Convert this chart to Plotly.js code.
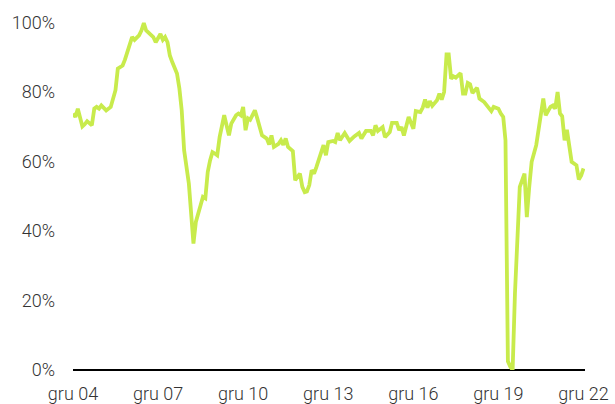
<!DOCTYPE html>
<html>
<head>
<meta charset="utf-8">
<script src="https://cdn.plot.ly/plotly-3.0.1.min.js"></script>
<style>html,body{margin:0;padding:0;background:#fff;}#chart{width:615px;height:404px;}</style>
</head>
<body>
<div id="chart"></div>
<script>
const dates = [
"2004-12","2005-01","2005-02","2005-04","2005-05","2005-06","2005-08","2005-09","2005-10","2005-11","2005-12",
"2006-02","2006-04","2006-06","2006-07","2006-09","2006-10","2007-01","2007-02","2007-04","2007-05","2007-06","2007-07",
"2007-09","2007-10","2007-11","2008-01","2008-02","2008-03","2008-04","2008-05","2008-06","2008-08","2008-09","2008-10","2008-11",
"2009-01","2009-03","2009-04","2009-06","2009-07","2009-08","2009-09","2009-10","2009-11","2009-12",
"2010-01","2010-02","2010-04","2010-06","2010-07","2010-09","2010-10","2010-11","2010-12",
"2011-01","2011-02","2011-03","2011-05","2011-06","2011-07","2011-08","2011-10","2011-11","2011-12",
"2012-01","2012-03","2012-04","2012-05","2012-06","2012-07","2012-09","2012-10","2012-12",
"2013-01","2013-02","2013-03","2013-04","2013-05","2013-06","2013-07","2013-09","2013-10","2013-11","2013-12",
"2014-02","2014-03","2014-04","2014-05","2014-07","2014-09","2014-11",
"2015-01","2015-02","2015-04","2015-06","2015-07","2015-08","2015-09","2015-11","2015-12",
"2016-02","2016-03","2016-05","2016-06","2016-07","2016-08","2016-10","2016-12",
"2017-01","2017-03","2017-04","2017-05","2017-06","2017-07","2017-08","2017-10","2017-11","2017-12",
"2018-01","2018-02","2018-03","2018-04","2018-05","2018-06","2018-08","2018-09","2018-10","2018-11","2018-12",
"2019-01","2019-03","2019-04","2019-06","2019-08","2019-09","2019-10","2019-12",
"2020-01","2020-02","2020-03","2020-04","2020-05","2020-06","2020-07","2020-08","2020-09","2020-11","2020-12",
"2021-01","2021-02","2021-04","2021-07","2021-08","2021-10","2021-11","2021-12",
"2022-01","2022-02","2022-03","2022-04","2022-05","2022-07","2022-09","2022-10","2022-11","2022-12"
];
const values = [
73.8,72.8,75.2,70.1,70.7,71.6,70.4,75.2,75.7,75.2,76.1,
74.7,75.7,80.5,86.7,87.6,89.3,95.8,95.0,96.3,97.7,99.8,97.7,
96.5,95.8,94.3,96.7,95.0,95.8,94.3,90.5,88.6,85.3,81.0,74.7,63.2,
53.6,36.4,42.6,47.4,49.8,49.4,57.0,60.3,62.7,62.3,
61.8,67.0,73.3,67.5,70.9,73.3,73.8,73.3,75.7,
69.0,72.4,72.0,74.7,72.4,70.4,67.5,66.6,64.9,67.5,
64.2,65.1,66.1,64.8,66.6,64.2,63.0,54.6,56.5,
52.7,51.2,51.4,53.2,57.5,56.5,58.4,63.2,64.7,61.8,65.6,
65.9,65.6,68.2,66.1,68.2,65.9,67.2,
68.2,66.6,68.8,68.8,67.5,70.4,68.8,69.9,67.0,
68.5,71.1,71.1,69.0,69.9,67.5,72.8,69.4,
74.5,74.2,75.5,77.8,75.5,77.4,76.0,77.6,79.5,77.8,
80.0,90.8,90.8,83.8,84.5,84.1,85.4,79.5,79.5,82.6,82.2,
79.7,81.2,78.1,77.1,75.5,74.5,75.7,75.2,
73.8,72.8,66.1,2.5,1.0,0.0,22.0,40.0,52.7,56.5,44.0,
52.7,59.9,64.7,78.1,73.3,75.7,76.1,75.2,
80.0,73.8,73.0,66.1,69.1,59.9,58.9,54.8,56.0,58.0
];
const tickDates = ["2004-12-01","2007-12-01","2010-12-01","2013-12-01","2016-12-01","2019-12-01","2022-12-01"];
const tickLabels = ["gru 04","gru 07","gru 10","gru 13","gru 16","gru 19","gru 22"];
const yTicks = [0,20,40,60,80,100];
const yTickLabels = ["0%","20%","40%","60%","80%","100%"];

const font = {family: "Roboto, 'Open Sans', sans-serif", size: 18, color: "#333333", weight: 300};

Plotly.newPlot("chart", [{
  x: dates, y: values, type: "scatter", mode: "lines",
  line: {color: "#c8eb4c", width: 3.8}, hoverinfo: "skip"
}], {
  width: 615, height: 404,
  margin: {l: 73, r: 30, t: 19, b: 34, pad: 0},
  paper_bgcolor: "#ffffff", plot_bgcolor: "#ffffff",
  showlegend: false,
  font: font,
  xaxis: {
    type: "date", range: ["2004-12-01", "2022-12-20"],
    tickmode: "array", tickvals: tickDates, ticktext: tickLabels,
    showgrid: false, zeroline: false, showline: false, ticks: "",
    tickfont: font, ticklabelstandoff: 11
  },
  yaxis: {
    range: [0, 101], tickmode: "array", tickvals: yTicks, ticktext: yTickLabels,
    showgrid: false, zeroline: true, zerolinecolor: "#000000", zerolinewidth: 2,
    showline: false, ticks: "", tickfont: font, ticklabelstandoff: 17
  }
}, {staticPlot: true, displayModeBar: false});
</script>
</body>
</html>
